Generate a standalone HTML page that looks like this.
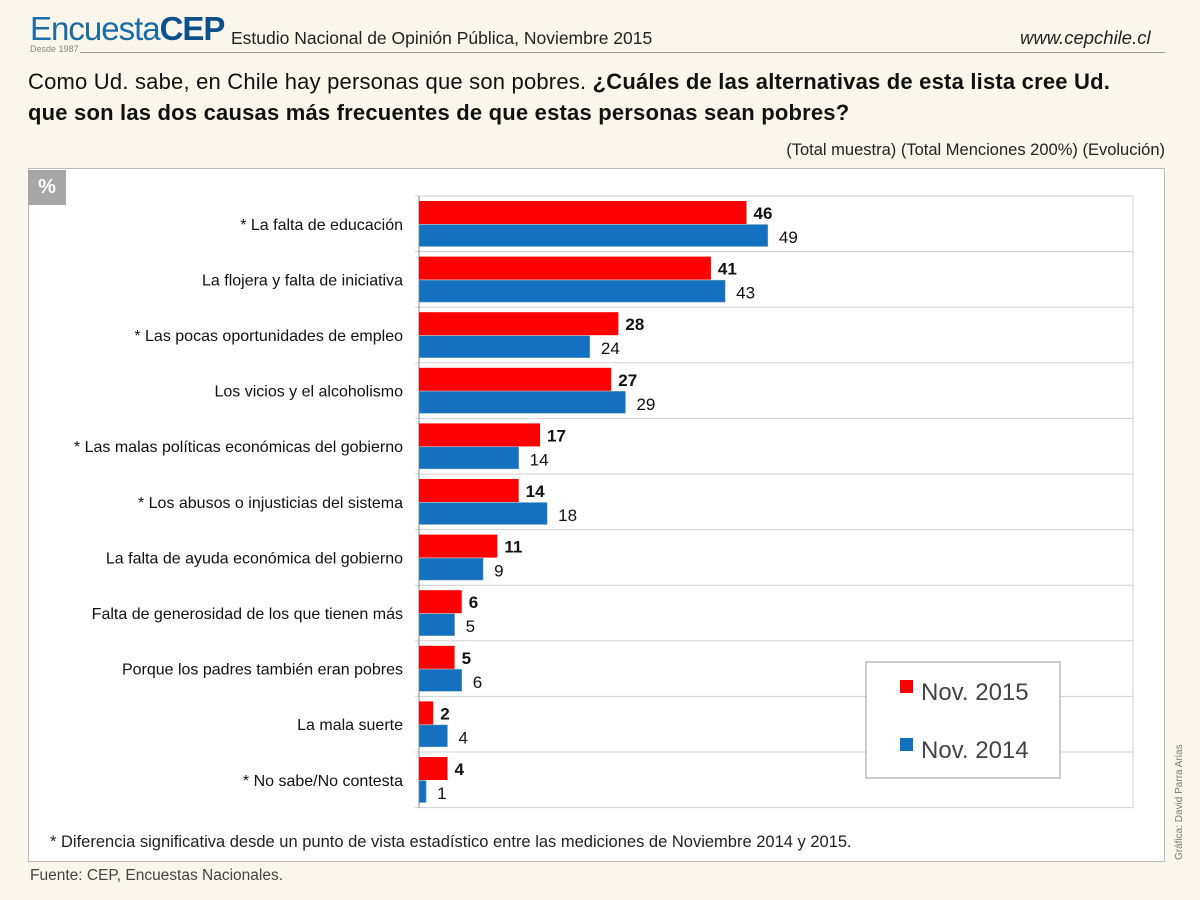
<!DOCTYPE html>
<html><head><meta charset="utf-8"><style>
body{margin:0;width:1200px;height:900px;background:#faf6ec;font-family:"Liberation Sans",sans-serif;position:relative;overflow:hidden}
.abs{position:absolute}
</style></head><body>
<div class="abs" style="left:30px;top:10px;font-size:33px;color:#1b6aa8;letter-spacing:-1px"><span style="font-weight:300">Encuesta</span><b style="color:#0d4f8b">CEP</b></div>
<div class="abs" style="left:30px;top:44px;font-size:9px;color:#888">Desde 1987</div>
<div class="abs" style="left:80px;top:52px;width:1085px;height:1px;background:#999"></div>
<div class="abs" style="left:231px;top:28px;font-size:17.5px;color:#222">Estudio Nacional de Opinión Pública, Noviembre 2015</div>
<div class="abs" style="left:1020px;top:27px;font-size:18.5px;font-style:italic;color:#222">www.cepchile.cl</div>
<div class="abs" style="left:28px;top:66px;font-size:22px;line-height:31px;color:#111;width:1160px;letter-spacing:0.2px">Como Ud. sabe, en Chile hay personas que son pobres. <b>¿Cuáles de las alternativas de esta lista cree Ud.<br>que son las dos causas más frecuentes de que estas personas sean pobres?</b></div>
<div class="abs" style="right:35px;top:141px;font-size:16.5px;color:#222">(Total muestra) (Total Menciones 200%) (Evolución)</div>
<div class="abs" style="left:28px;top:168px;width:1137px;height:694px;background:#fff;border:1px solid #bbb;box-sizing:border-box"></div>
<div class="abs" style="left:28px;top:170px;width:38px;height:35px;background:#a6a6a6;color:#fff;font-weight:bold;font-size:20px;text-align:center;line-height:35px">%</div>
<svg class="abs" style="left:0;top:0" width="1200" height="900" id="chart"></svg>
<div class="abs" style="left:50px;top:833px;font-size:16.5px;color:#222">* Diferencia significativa desde un punto de vista estadístico entre las mediciones de Noviembre 2014 y 2015.</div>
<div class="abs" style="left:30px;top:867px;font-size:15.5px;color:#444">Fuente: CEP, Encuestas Nacionales.</div>
<div class="abs" style="left:1174px;top:860px;font-size:10px;color:#777;transform:rotate(-90deg);transform-origin:0 0;white-space:nowrap">Gráfica: David Parra Arias</div>
<script>
const categories=["* La falta de educación","La flojera y falta de iniciativa","* Las pocas oportunidades de empleo","Los vicios y el alcoholismo","* Las malas políticas económicas del gobierno","* Los abusos o injusticias del sistema","La falta de ayuda económica del gobierno","Falta de generosidad de los que tienen más","Porque los padres también eran pobres","La mala suerte","* No sabe/No contesta"];
const nov2015=[46,41,28,27,17,14,11,6,5,2,4];
const nov2014=[49,43,24,29,14,18,9,5,6,4,1];
const svg=document.getElementById('chart');
const NS='http://www.w3.org/2000/svg';
const x0=419,ppu=7.12,top0=196,rowH=55.6,plotR=1133;
const xs=v=>x0+v*ppu;
function mk(t,a){const e=document.createElementNS(NS,t);for(const k in a)e.setAttribute(k,a[k]);svg.appendChild(e);return e;}
const n=categories.length;
for(let i=0;i<=n;i++){const g=mk('line',{x1:x0-4,x2:plotR,y1:top0+i*rowH,y2:top0+i*rowH,stroke:'#d0d0d0','stroke-width':1});

}
const fr=mk('line',{x1:plotR,x2:plotR,y1:top0,y2:top0+n*rowH,stroke:'#d0d0d0'});


const ax=mk('line',{x1:x0,x2:x0,y1:top0,y2:top0+n*rowH,stroke:'#888'});


categories.forEach((c,i)=>{
 const y=top0+i*rowH;
 const t=mk('text',{x:403,y:y+rowH/2+6,'text-anchor':'end','font-size':16,fill:'#111'});t.textContent=c;
 
 
 const r=mk('rect',{x:x0,y:y+5,width:xs(nov2015[i])-x0,height:23,fill:'#ff0000'});
 
 
 const b=mk('rect',{x:x0,y:y+28.5,width:xs(nov2014[i])-x0,height:22,fill:'#1470c0',stroke:'#8aa',"stroke-width":0.5});
 
 
 const l1=mk('text',{x:xs(nov2015[i])+7,y:y+23,'font-size':17,'font-weight':'bold',fill:'#111'});l1.textContent=nov2015[i];
 
 
 const l2=mk('text',{x:xs(nov2014[i])+11,y:y+47,'font-size':17,fill:'#111'});l2.textContent=nov2014[i];
 
 
});
const lg=mk('rect',{x:866,y:662,width:194,height:116,fill:'#fff',stroke:'#999'});


[['Nov. 2015','#ff0000',692],['Nov. 2014','#1470c0',750]].forEach(([s,c,y])=>{
 const sw=mk('rect',{x:900,y:y-12,width:13,height:13,fill:c});
 
 
 const t=mk('text',{x:921,y:y+8,'font-size':24,fill:'#444'});t.textContent=s;
 
 
});
</script>
</body></html>
